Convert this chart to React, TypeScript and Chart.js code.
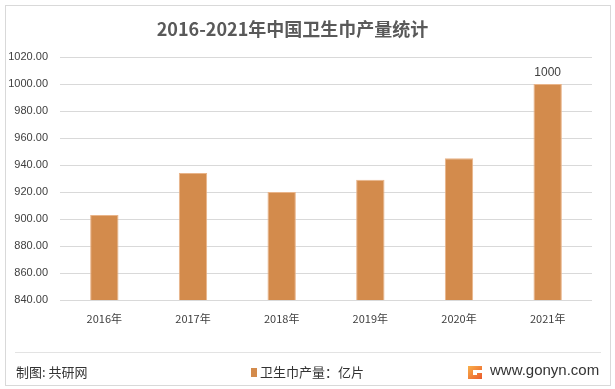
import React, { useEffect, useRef } from "react";
import { Chart, registerables } from "chart.js";

Chart.register(...registerables);

const categories = ["2016年", "2017年", "2018年", "2019年", "2020年", "2021年"];
const production = [903, 934, 920, 929, 945, 1000];
const showLabel = [false, false, false, false, false, true];
const labelText = ["", "", "", "", "", "1000"];
const yMin = 840;
const yMax = 1020;
const yStep = 20;

const FONT = "'Liberation Sans', 'Noto Sans CJK SC', sans-serif";
const CJK = "'Noto Sans CJK SC', 'Liberation Sans', sans-serif";

const labelPlugin = {
  id: "barLabels",
  afterDatasetsDraw(chart: any) {
    const ctx = chart.ctx;
    const meta = chart.getDatasetMeta(0);
    ctx.save();
    ctx.font = `12px ${FONT}`;
    ctx.fillStyle = "#404040";
    ctx.textAlign = "center";
    ctx.textBaseline = "bottom";
    meta.data.forEach((bar: any, i: number) => {
      if (!showLabel[i]) return;
      ctx.fillText(labelText[i], bar.x, bar.y - 5);
    });
    ctx.restore();
  },
};

export default function App() {
  const ref = useRef<HTMLCanvasElement>(null);

  useEffect(() => {
    document.body.style.margin = "0";
    const chart = new Chart(ref.current!, {
      type: "bar",
      data: {
        labels: categories,
        datasets: [
          {
            label: "卫生巾产量：亿片",
            data: production,
            backgroundColor: "#D38B4C",
            borderColor: "#E9B489",
            borderWidth: 1,
            barPercentage: 0.32,
            categoryPercentage: 1,
          },
        ],
      },
      options: {
        animation: false,
        responsive: false,
        maintainAspectRatio: false,
        layout: { padding: { left: 0, top: 57, right: 23, bottom: 59 } },
        plugins: {
          legend: { display: false },
          title: { display: false },
          tooltip: { enabled: false },
        },
        scales: {
          x: {
            grid: { display: false, drawTicks: false },
            border: { display: false },
            ticks: {
              font: { size: 11, family: CJK },
              color: "#404040",
              padding: 12,
            },
            afterFit: (s: any) => {
              s.height = 30;
            },
          },
          y: {
            min: yMin,
            max: yMax,
            grid: { color: "#D9D9D9", lineWidth: 1, drawTicks: false },
            border: { display: false },
            ticks: {
              stepSize: yStep,
              font: { size: 11, family: FONT },
              color: "#404040",
              padding: 12,
              callback: (v: any) => Number(v).toFixed(2),
            },
            afterFit: (s: any) => {
              s.width = 60;
            },
          },
        },
      },
      plugins: [labelPlugin],
    });
    return () => chart.destroy();
  }, []);

  return (
    <div style={{ position: "absolute", left: 0, top: 0, width: 615, height: 389, background: "#fff", overflow: "hidden" }}>
      <div
        style={{
          position: "absolute",
          left: 5,
          top: 5,
          width: 604,
          height: 379,
          border: "1px solid #D9D9D9",
        }}
      />
      <canvas ref={ref} width={615} height={389} style={{ position: "absolute", left: 0, top: 0 }} />
      <div
        style={{
          position: "absolute",
          left: 0,
          width: 585,
          top: 16,
          textAlign: "center",
          font: `bold 18px ${CJK}`,
          color: "#595959",
          lineHeight: "24px",
          whiteSpace: "nowrap",
        }}
      >
        2016-2021年中国卫生巾产量统计
      </div>
      <div style={{ position: "absolute", left: 15, top: 352, width: 586, height: 1, background: "#E3E3E3" }} />
      <div
        style={{
          position: "absolute",
          left: 16,
          top: 363,
          font: `13px ${CJK}`,
          color: "#333",
          lineHeight: "18px",
          whiteSpace: "nowrap",
        }}
      >
        制图: 共研网
      </div>
      <div
        style={{
          position: "absolute",
          left: 251,
          top: 363,
          font: `13px ${CJK}`,
          color: "#333",
          lineHeight: "18px",
          whiteSpace: "nowrap",
          display: "flex",
          alignItems: "center",
        }}
      >
        <span style={{ display: "inline-block", width: 6, height: 9, background: "#D38B4C", marginRight: 3 }} />
        卫生巾产量：亿片
      </div>
      <svg style={{ position: "absolute", left: 467, top: 364 }} width={16} height={16} viewBox="0 0 16 16">
        <defs>
          <linearGradient id="lg" x1="0" y1="0" x2="1" y2="1">
            <stop offset="0" stopColor="#F9B04A" />
            <stop offset="1" stopColor="#EA5A2B" />
          </linearGradient>
        </defs>
        <path d="M1 2 H15 V6 H6 V11 H10 V9 H15 V15 H1 Z" fill="url(#lg)" />
      </svg>
      <div
        style={{
          position: "absolute",
          left: 490,
          top: 360,
          font: `15px ${FONT}`,
          color: "#333",
          lineHeight: "20px",
          whiteSpace: "nowrap",
        }}
      >
        www.gonyn.com
      </div>
    </div>
  );
}
